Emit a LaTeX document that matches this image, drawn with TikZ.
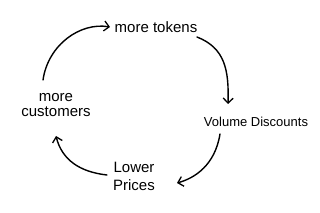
\documentclass[tikz,border=0pt]{standalone}
\usepackage{fontspec}
\setmainfont{Liberation Sans}
\usetikzlibrary{arrows.meta}
\begin{document}
\begin{tikzpicture}[x=1pt,y=-1pt,
  lbl/.style={font=\fontsize{15}{16}\selectfont, align=center, inner sep=1pt, text=black},
  flow/.style={draw=black, line width=1.4pt, line cap=round,
    -{Straight Barb[length=5pt,width=10pt,line width=1.3pt]}}]
\useasboundingbox (0,0) rectangle (320,213);
\fill[white] (0,0) rectangle (320,213);
\node[lbl] (tok) at (156,27) {more tokens};
\node[lbl, font=\fontsize{13}{14}\selectfont] (vol) at (256,122) {Volume Discounts};
\node[lbl, font=\fontsize{15}{15}\selectfont] (cust) at (56,105) {more\\customers};
\node[lbl, font=\fontsize{15}{18}\selectfont] (low) at (134,176) {Lower\\Prices};
\coordinate (c1s) at (43,80);
\coordinate (c1e) at (110,27);
\coordinate (c2s) at (197,37);
\coordinate (c2e) at (228,104);
\coordinate (c3s) at (220,134);
\coordinate (c3e) at (177,183);
\coordinate (c4s) at (107,175);
\coordinate (c4e) at (56,136);
\draw[flow] (c1s) .. controls (48,45) and (80,22) .. (c1e);
\draw[flow] (c2s) .. controls (225,48) and (229,70) .. (c2e);
\draw[flow] (c3s) .. controls (215,165) and (195,178) .. (c3e);
\draw[flow] (c4s) .. controls (80,172) and (62,160) .. (c4e);
\end{tikzpicture}
\end{document}
